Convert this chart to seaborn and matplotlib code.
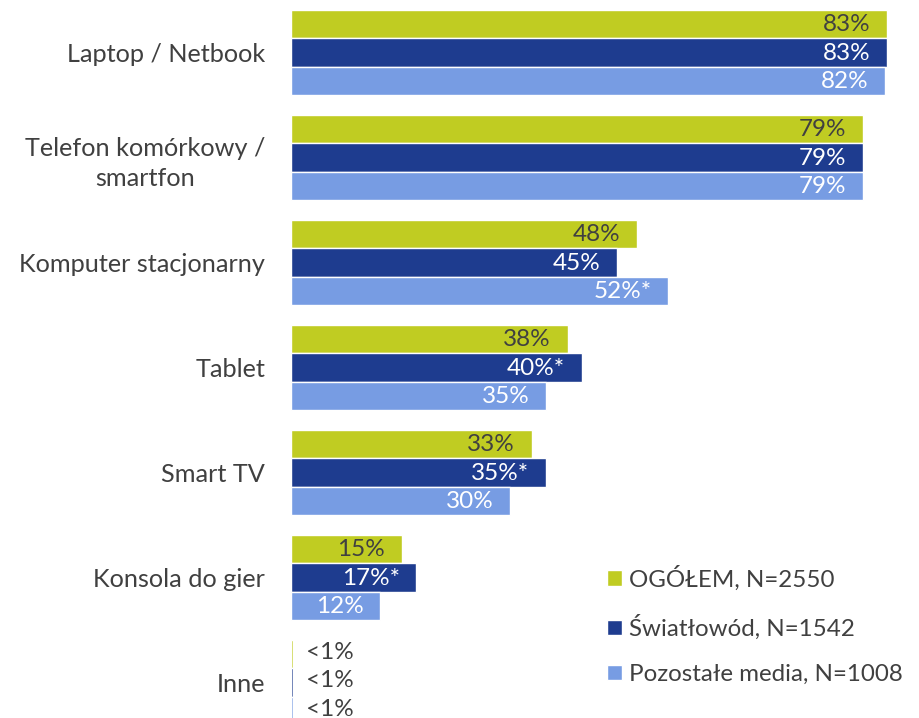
import pandas as pd
import matplotlib.pyplot as plt
import seaborn as sns

# Data
categories = ['Laptop / Netbook', 'Telefon komórkowy /\nsmartfon', 'Komputer stacjonarny',
              'Tablet', 'Smart TV', 'Konsola do gier', 'Inne']
series = ['OGÓŁEM, N=2550', 'Światłowód, N=1542', 'Pozostałe media, N=1008']
ogolem = [82.8, 79.4, 48.1, 38.4, 33.4, 15.4, 0.3]
swiatlowod = [82.8, 79.4, 45.3, 40.4, 35.4, 17.4, 0.3]
pozostale = [82.5, 79.4, 52.4, 35.4, 30.4, 12.4, 0.3]
labels_ogolem = ['83%', '79%', '48%', '38%', '33%', '15%', '<1%']
labels_swiatlowod = ['83%', '79%', '45%', '40%*', '35%*', '17%*', '<1%']
labels_pozostale = ['82%', '79%', '52%*', '35%', '30%', '12%', '<1%']

colors = ['#C0CC22', '#1E3C8F', '#779CE3']
text_dark = '#404040'

df = pd.DataFrame({
    'kategoria': categories * 3,
    'seria': [s for s in series for _ in categories],
    'wartosc': ogolem + swiatlowod + pozostale,
})

sns.set_theme(style='white')
plt.rcParams['font.family'] = ['Lato', 'DejaVu Sans']

fig = plt.figure(figsize=(9.19, 7.18), dpi=100)
ax = fig.add_axes([291 / 919, 0, 1 - 291 / 919, 1])

sns.barplot(data=df, y='kategoria', x='wartosc', hue='seria', order=categories,
            hue_order=series, palette=colors, orient='h', width=0.813,
            saturation=1, ax=ax, legend=True)

ax.set_xlim(0, 87.2)
ax.set_ylim(6.336, -0.502)
sns.despine(ax=ax, left=True, bottom=True)
ax.set_xticks([])
ax.set_xlabel('')
ax.set_ylabel('')
ax.tick_params(axis='y', length=0, pad=18.5, labelsize=18.2, labelcolor=text_dark)
for t in ax.get_yticklabels():
    t.set_multialignment('center')
    t.set_linespacing(1.4)

all_labels = [labels_ogolem, labels_swiatlowod, labels_pozostale]
for k, cont in enumerate(ax.containers):
    for i, patch in enumerate(cont.patches):
        y = patch.get_y() + patch.get_height() / 2
        w = patch.get_width()
        lab = all_labels[k][i]
        if lab == '<1%':
            ax.annotate(lab, (w, y), xytext=(9, 1.5), textcoords='offset points',
                        ha='left', va='center', fontsize=17.5, color=text_dark)
        else:
            col = text_dark if k == 0 else 'white'
            ax.annotate(lab, (w, y), xytext=(-12, -0.5), textcoords='offset points',
                        ha='right', va='center', fontsize=17.5, color=col)

leg = ax.legend(loc='upper left', bbox_to_anchor=(0.488, 0.226), frameon=False,
                fontsize=17.4, handlelength=0.62, handleheight=0.62,
                handletextpad=0.3, labelspacing=1.0, borderaxespad=0)
for t in leg.get_texts():
    t.set_color(text_dark)

fig.savefig('out.png', dpi=100)
